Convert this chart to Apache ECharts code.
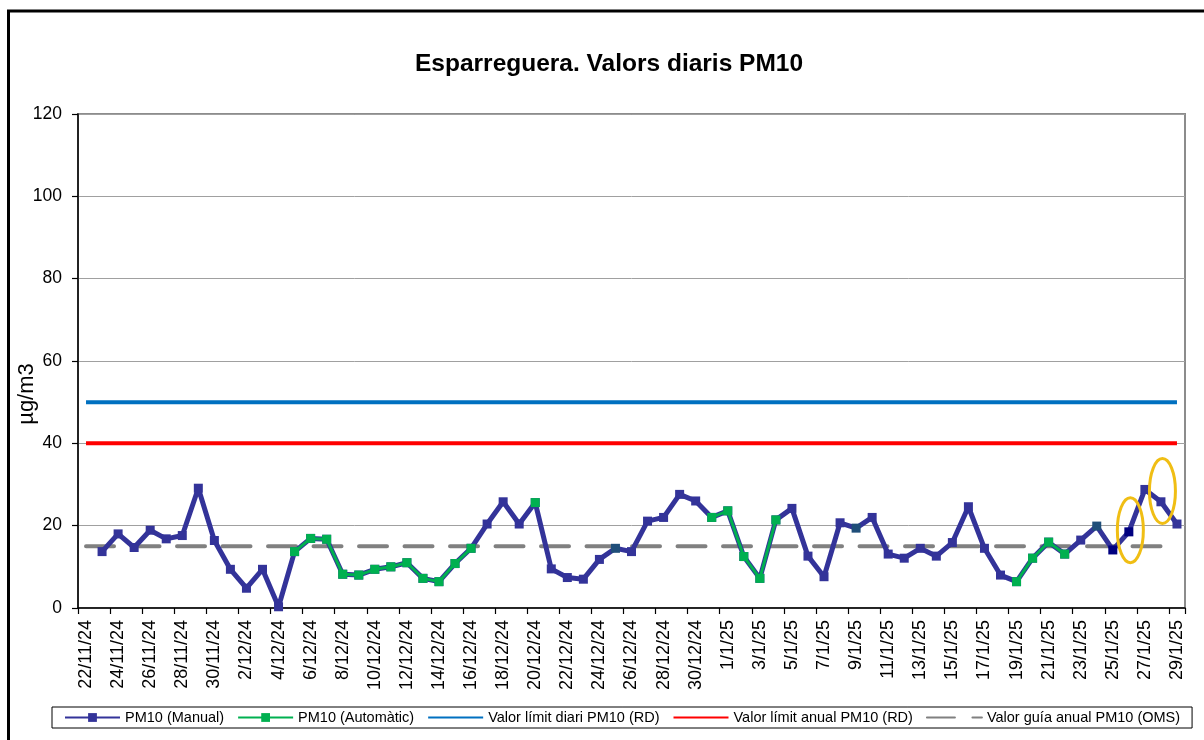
<!DOCTYPE html>
<html>
<head>
<meta charset="utf-8">
<title>Esparreguera. Valors diaris PM10</title>
<script src="https://cdn.jsdelivr.net/npm/echarts@6/dist/echarts.min.js"></script>
<style>
  html, body { margin: 0; padding: 0; background: #fff; }
  #chart { width: 1204px; height: 740px; }
</style>
</head>
<body>
<div id="chart"></div>
<script>
// dades diàries (22/11/24 - 29/1/25)
const dates = [
    '22/11/24', '23/11/24', '24/11/24', '25/11/24', '26/11/24', '27/11/24', '28/11/24', '29/11/24', '30/11/24',
    '1/12/24', '2/12/24', '3/12/24', '4/12/24', '5/12/24', '6/12/24', '7/12/24', '8/12/24', '9/12/24', '10/12/24',
    '11/12/24', '12/12/24', '13/12/24', '14/12/24', '15/12/24', '16/12/24', '17/12/24', '18/12/24', '19/12/24', '20/12/24',
    '21/12/24', '22/12/24', '23/12/24', '24/12/24', '25/12/24', '26/12/24', '27/12/24', '28/12/24', '29/12/24', '30/12/24',
    '31/12/24', '1/1/25', '2/1/25', '3/1/25', '4/1/25', '5/1/25', '6/1/25', '7/1/25', '8/1/25', '9/1/25',
    '10/1/25', '11/1/25', '12/1/25', '13/1/25', '14/1/25', '15/1/25', '16/1/25', '17/1/25', '18/1/25', '19/1/25',
    '20/1/25', '21/1/25', '22/1/25', '23/1/25', '24/1/25', '25/1/25', '26/1/25', '27/1/25', '28/1/25', '29/1/25'
];

const pm10Manual = [
    null, 13.7, 18.0, 14.7, 18.9, 16.8, 17.6, 29.1, 16.4,
    9.4, 4.8, 9.4, 0.3, 13.7, 16.9, 16.7, 8.2, 8.0, 9.4,
    10.0, 11.0, 7.2, 6.4, 10.8, 14.5, 20.4, 25.8, 20.4, 25.6,
    9.5, 7.4, 7.0, 11.8, 14.5, 13.7, 21.1, 22.0, 27.6, 26.0,
    22.0, 23.6, 12.5, 7.2, 21.4, 24.2, 12.6, 7.6, 20.7, 19.4,
    22.0, 13.1, 12.1, 14.5, 12.6, 15.9, 24.6, 14.5, 8.0, 6.4,
    12.1, 16.0, 13.1, 16.5, 19.9, 14.1, 18.5, 28.8, 25.8, 20.4
];

const pm10Auto = [
    null, null, null, null, null, null, null, null, null,
    null, null, null, null, 13.7, 16.9, 16.7, 8.2, 8.0, 9.4,
    10.0, 11.0, 7.2, 6.4, 10.8, 14.5, null, null, null, 25.6,
    null, null, null, null, null, null, null, null, null, null,
    22.0, 23.6, 12.5, 7.2, 21.4, null, null, null, null, null,
    null, null, null, null, null, null, null, null, null, 6.4,
    12.1, 16.0, 13.1, null, null, null, null, null, null
];

const limitDaily = 50;   // Valor límit diari (RD)
const limitAnnual = 40;  // Valor límit anual (RD)
const guideAnnual = 15;  // Valor guia anual (OMS)

// punts marcats amb un altre color al gràfic original
const tealMarkerDates = ['25/12/24', '9/1/25', '24/1/25'];
const navyMarkerDates = ['25/1/25', '26/1/25'];

// punts encerclats en groc
const circledDates = ['26/1/25', '28/1/25'];
const circledValues = [18.9, 28.4];

const seriesNames = [
    'PM10 (Manual)',
    'PM10 (Automàtic)',
    'Valor límit diari PM10 (RD)',
    'Valor límit anual PM10 (RD)',
    'Valor guía anual PM10 (OMS)'
];

const FONT = '"Liberation Sans", Arial, sans-serif';

const chart = echarts.init(document.getElementById('chart'));

const manualData = pm10Manual.map((v, i) => {
    if (tealMarkerDates.includes(dates[i])) return { value: v, itemStyle: { color: '#1f4e79' } };
    if (navyMarkerDates.includes(dates[i])) return { value: v, itemStyle: { color: '#000080' } };
    return v;
});

const option = {
    animation: false,
    backgroundColor: '#fff',
    textStyle: { fontFamily: FONT, color: '#000' },
    title: {
        text: 'Esparreguera. Valors diaris PM10',
        left: 410,
        top: 47,
        textStyle: { fontFamily: FONT, fontSize: 24.5, fontWeight: 'bold', color: '#000' }
    },
    legend: {
        data: seriesNames.map((n, i) => i < 2 ? n : { name: n, itemStyle: { opacity: 0 } }),
        left: 52,
        top: 707,
        padding: [3, 12, 3, 12],
        borderColor: '#000',
        borderWidth: 1,
        borderRadius: 0,
        itemWidth: 55,
        itemHeight: 11,
        itemGap: 13,
        textStyle: { fontFamily: FONT, fontSize: 14.5, color: '#000' }
    },
    grid: {
        left: 78,
        right: 19,
        top: 114,
        bottom: 132,
        outerBoundsMode: 'none',
        containLabel: false,
        show: true,
        borderColor: '#8c8c8c',
        borderWidth: 2
    },
    xAxis: {
        type: 'category',
        data: dates,
        boundaryGap: true,
        axisLine: { lineStyle: { color: '#000', width: 1.5 } },
        axisTick: { show: true, interval: 1, length: 6, lineStyle: { color: '#000', width: 1.2 } },
        axisLabel: {
            interval: 1,
            rotate: 90,
            margin: 12,
            fontFamily: FONT,
            fontSize: 18,
            color: '#000'
        },
        splitLine: { show: false }
    },
    yAxis: {
        type: 'value',
        min: 0,
        max: 120,
        interval: 20,
        name: 'µg/m3',
        nameLocation: 'middle',
        nameRotate: 90,
        nameGap: 40,
        nameMoveOverlap: false,
        nameTextStyle: { fontFamily: FONT, fontSize: 22, color: '#000', padding: [0, 66, 0, 0] },
        axisLine: { show: true, lineStyle: { color: '#000', width: 1.5 } },
        axisTick: { show: true, length: 6, lineStyle: { color: '#000', width: 1.2 } },
        axisLabel: { margin: 16, fontFamily: FONT, fontSize: 17.5, color: '#000' },
        splitLine: { show: true, lineStyle: { color: '#a0a0a0', width: 1 } }
    },
    series: [
        {
            name: seriesNames[0],
            type: 'line',
            data: manualData,
            z: 4,
            symbol: 'rect',
            symbolSize: 9,
            showAllSymbol: true,
            color: '#333399',
            lineStyle: { color: '#333399', width: 5, join: 'round' },
            itemStyle: { color: '#333399' }
        },
        {
            name: seriesNames[1],
            type: 'line',
            data: pm10Auto,
            z: 5,
            symbol: 'rect',
            symbolSize: 9,
            showAllSymbol: true,
            color: '#00b050',
            lineStyle: { color: '#00b050', width: 3, join: 'round' },
            itemStyle: { color: '#00b050' }
        },
        {
            name: seriesNames[2],
            type: 'line',
            data: dates.map(() => limitDaily),
            z: 2,
            symbol: 'none',
            color: '#0070c0',
            lineStyle: { color: '#0070c0', width: 4 }
        },
        {
            name: seriesNames[3],
            type: 'line',
            data: dates.map(() => limitAnnual),
            z: 2,
            symbol: 'none',
            color: '#ff0000',
            lineStyle: { color: '#ff0000', width: 4 }
        },
        {
            name: seriesNames[4],
            type: 'line',
            data: dates.map(() => guideAnnual),
            z: 3,
            symbol: 'none',
            color: '#808080',
            lineStyle: { color: '#808080', width: 4, type: [28, 17.5], cap: 'round' }
        }
    ]
};

chart.setOption(option);

// el·lipses grogues i marc exterior
const ellipses = circledDates.map((d, i) => {
    const p = chart.convertToPixel({ gridIndex: 0 }, [d, circledValues[i]]);
    return {
        type: 'ellipse',
        shape: { cx: p[0] + 1.5, cy: p[1], rx: 13, ry: 32.5 },
        style: { fill: null, stroke: '#f0be14', lineWidth: 3 },
        z: 100
    };
});

chart.setOption({
    graphic: [
        {
            type: 'rect',
            shape: { x: 8.5, y: 11, width: 1400, height: 1000 },
            style: { fill: null, stroke: '#000', lineWidth: 3 },
            z: 100
        }
    ].concat(ellipses)
});
</script>
</body>
</html>
